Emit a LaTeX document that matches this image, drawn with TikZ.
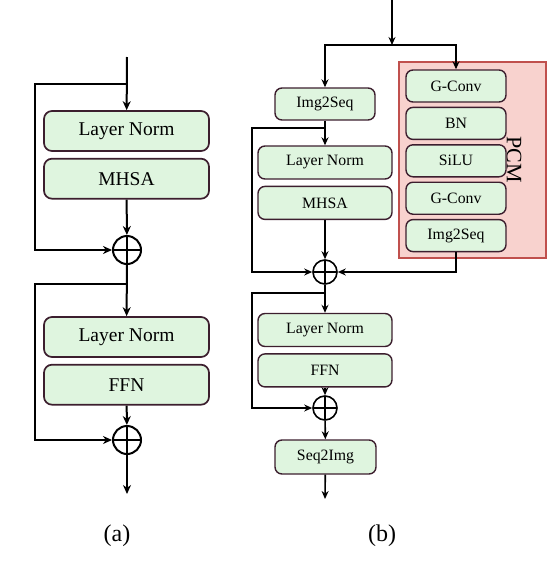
\documentclass[tikz,border=0pt]{standalone}
\usepackage{fontspec}
\setmainfont{Liberation Serif}
\usetikzlibrary{positioning, arrows.meta}

\definecolor{boxfill}{HTML}{DFF5DF}
\definecolor{boxline}{HTML}{3C1E2E}
\definecolor{pcmfill}{HTML}{F8D2CE}
\definecolor{pcmline}{HTML}{C0504D}

\begin{document}
\begin{tikzpicture}[x=1pt, y=-1pt,
  blockA/.style={draw=boxline, fill=boxfill, rounded corners=8pt, line width=1.7pt,
    minimum width=165pt, minimum height=40pt, inner sep=0pt, font=\fontsize{19.5}{21}\selectfont},
  blockB/.style={draw=boxline, fill=boxfill, rounded corners=7pt, line width=1.4pt,
    minimum width=134pt, minimum height=33pt, inner sep=0pt, font=\fontsize{15.8}{17}\selectfont},
  sumnode/.style={draw, circle, minimum size=#1, inner sep=0pt,
    path picture={\draw (path picture bounding box.north) -- (path picture bounding box.south)
      (path picture bounding box.west) -- (path picture bounding box.east);}},
  flowA/.style={line width=2pt, -{Stealth[length=9pt, width=8pt]}},
  lineA/.style={line width=2pt},
  flowB/.style={line width=1.6pt, -{Stealth[length=8pt, width=7pt]}},
  lineB/.style={line width=1.6pt}]
\useasboundingbox (0,0) rectangle (548,576);

% (a) plain transformer block
\node (aln1) [blockA] at (126.5,131) {Layer Norm};
\node (amhsa) [blockA, below=6pt of aln1] {MHSA};
\node (asum1) [sumnode=28pt, lineA] at (127,250) {};
\node (aln2) [blockA] at (126.5,337) {Layer Norm};
\node (affn) [blockA, below=6pt of aln2] {FFN};
\node (asum2) [sumnode=28pt, lineA] at (127,440) {};
\coordinate (ain) at (127,57);
\coordinate (abr1) at (127,84);
\coordinate (abr2) at (127,284);
\coordinate (aout) at (127,494);
\draw[flowA] (ain) -- (aln1);
\draw[flowA] (abr1) -- (35,84) |- (asum1);
\draw[flowA] (amhsa) -- (asum1);
\draw[flowA] (asum1) -- (aln2);
\draw[flowA] (abr2) -- (35,284) |- (asum2);
\draw[flowA] (affn) -- (asum2);
\draw[flowA] (asum2) -- (aout);

% (b) block with PCM branch
\node (pcm) [draw=pcmline, fill=pcmfill, line width=1.6pt, minimum width=147pt,
  minimum height=196pt, inner sep=0pt] at (472.5,160) {};
\node (pcmlabel) [rotate=-90, font=\fontsize{22}{24}\selectfont] at (514,160) {PCM};
\node (gconv1) [blockB, minimum width=100pt, minimum height=32pt] at (456,86) {G-Conv};
\node (bn) [blockB, minimum width=100pt, minimum height=32pt, below=4pt of gconv1] {BN};
\node (silu) [blockB, minimum width=100pt, minimum height=32pt, below=4pt of bn] {SiLU};
\node (gconv2) [blockB, minimum width=100pt, minimum height=32pt, below=4pt of silu] {G-Conv};
\node (pimg) [blockB, minimum width=100pt, minimum height=32pt, below=4pt of gconv2] {Img2Seq};

\node (img2seq) [blockB, minimum width=100pt, minimum height=32pt] at (325,104) {Img2Seq};
\node (bln1) [blockB] at (325,162.5) {Layer Norm};
\node (bmhsa) [blockB, below=6pt of bln1] {MHSA};
\node (bsum1) [sumnode=24pt, lineB] at (325,272) {};
\node (bln2) [blockB] at (325,330) {Layer Norm};
\node (bffn) [blockB, below=6pt of bln2] {FFN};
\node (bsum2) [sumnode=24pt, lineB] at (325,408) {};
\node (seq2img) [blockB, minimum width=101pt, minimum height=34pt] at (325.5,457) {Seq2Img};
\coordinate (bin) at (392,0);
\coordinate (split) at (392,45);
\coordinate (bbr1) at (325,128);
\coordinate (bbr2) at (325,293);
\coordinate (bout) at (325,499);
\draw[flowB] (bin) -- (split);
\draw[flowB] (split) -| (img2seq);
\draw[flowB] (split) -| (gconv1);
\draw[lineB] (img2seq) -- (bbr1);
\draw[flowB] (bbr1) -- (bln1);
\draw[flowB] (bbr1) -- (252,128) |- (bsum1);
\draw[flowB] (bmhsa) -- (bsum1);
\draw[flowB] (pimg) |- (bsum1);
\draw[flowB] (bsum1) -- (bln2);
\draw[flowB] (bbr2) -- (252,293) |- (bsum2);
\draw[flowB] (bffn) -- (bsum2);
\draw[flowB] (bsum2) -- (seq2img);
\draw[flowB] (seq2img) -- (bout);

% captions
\node (capa) [font=\fontsize{24}{26}\selectfont] at (117,536) {(a)};
\node (capb) [font=\fontsize{24}{26}\selectfont] at (382,536) {(b)};
\end{tikzpicture}
\end{document}
